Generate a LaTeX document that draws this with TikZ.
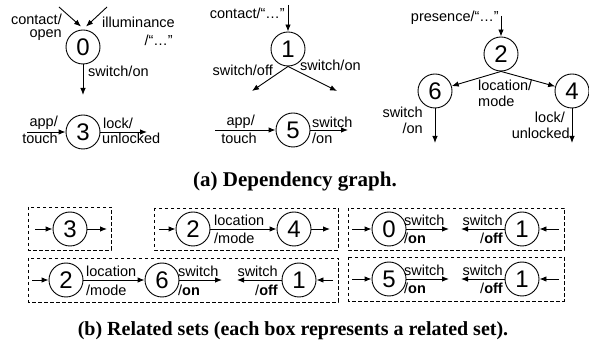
\documentclass[tikz,border=0pt]{standalone}
\usepackage{fontspec}
\setmainfont{Liberation Sans}
\newfontfamily\capfont{Liberation Serif}
\usetikzlibrary{arrows.meta}
\tikzset{
  st/.style={circle, draw, line width=0.9pt, minimum size=34pt, inner sep=0pt, font=\fontsize{24}{24}\selectfont},
  lbl/.style={inner sep=0pt, font=\fontsize{14.5}{15}\selectfont},
  arr/.style={line width=0.9pt, -{Latex[length=7pt,width=5.5pt]}},
  dbox/.style={line width=0.8pt, dash pattern=on 3.5pt off 2.5pt},
  captext/.style={inner sep=0pt, font=\capfont\bfseries\fontsize{20}{22}\selectfont}
}
\begin{document}
\begin{tikzpicture}[x=1pt,y=-1pt]
\useasboundingbox (0,0) rectangle (589,352);
% ---------- (a) left ----------
\node[st] (n0) at (83,47) {0};
\coordinate (i0a) at (59,7);
\coordinate (i0b) at (107,7);
\coordinate (o0) at (83,95);
\draw[arr] (i0a) -- ([xshift=-2pt,yshift=3pt]n0.north);
\draw[arr] (i0b) -- ([xshift=3pt,yshift=3pt]n0.north);
\draw[arr] (n0) -- (o0);
\node[lbl,anchor=east] (l0a) at (62,19) {contact/};
\node[lbl,anchor=east] (l0b) at (62,35) {open};
\node[lbl,anchor=west] (l0c) at (102,22) {illuminance};
\node[lbl,anchor=east] (l0d) at (173,40) {/“…”};
\node[lbl,anchor=west] (l0e) at (88,71) {switch/on};
\node[st] (n3) at (83,132) {3};
\coordinate (i3) at (27,132);
\coordinate (o3) at (147,132);
\draw[arr] (i3) -- (n3);
\draw[arr] (n3) -- (o3);
\node[lbl,anchor=east] (l3a) at (58,123) {app/};
\node[lbl,anchor=east] (l3b) at (58,138) {touch};
\node[lbl,anchor=west] (l3c) at (103,123) {lock/};
\node[lbl,anchor=west] (l3d) at (102,138) {unlocked};
% ---------- (a) middle ----------
\node[st] (n1) at (288,49) {1};
\coordinate (i1) at (288,5);
\coordinate (o1a) at (252,91);
\coordinate (o1b) at (337,91);
\draw[arr] (i1) -- (n1);
\draw[arr] (n1.south) -- (o1a);
\draw[arr] (n1.south) -- (o1b);
\node[lbl,anchor=east] (l1a) at (285,13) {contact/“…”};
\node[lbl,anchor=east] (l1b) at (273,70) {switch/off};
\node[lbl,anchor=west] (l1c) at (300,65) {switch/on};
\node[st] (n5) at (293,130) {5};
\coordinate (i5) at (215,130);
\coordinate (o5) at (348,130);
\draw[arr] (i5) -- (n5);
\draw[arr] (n5) -- (o5);
\node[lbl,anchor=east] (l5a) at (255,122) {app/};
\node[lbl,anchor=east] (l5b) at (257,138) {touch};
\node[lbl,anchor=west] (l5c) at (312,122) {switch};
\node[lbl,anchor=west] (l5d) at (312,138) {/on};
% ---------- (a) right ----------
\node[st] (n2) at (501,54) {2};
\node[st] (n6) at (435,91) {6};
\node[st] (n4) at (572,91) {4};
\coordinate (i2) at (501,16);
\coordinate (o6) at (435,143);
\coordinate (o4) at (572,143);
\draw[arr] (i2) -- (n2);
\draw[arr] (n2.south) -- (n6);
\draw[arr] (n2.south) -- (n4);
\draw[arr] (n6) -- (o6);
\draw[arr] (n4) -- (o4);
\node[lbl,anchor=east] (l2a) at (499,18) {presence/“…”};
\node[lbl,anchor=west] (l2b) at (478,85) {location/};
\node[lbl,anchor=west] (l2c) at (478,101) {mode};
\node[lbl,anchor=east] (l6a) at (423,112) {switch};
\node[lbl,anchor=east] (l6b) at (423,128) {/on};
\node[lbl,anchor=east] (l4a) at (565,117) {lock/};
\node[lbl,anchor=east] (l4b) at (570,133) {unlocked};
\node[captext,font=\capfont\bfseries\fontsize{21}{22}\selectfont] (capa) at (295,182) {(a) Dependency graph.};
% ---------- (b) boxes ----------
\draw[dbox] (28,207) rectangle (111,250);
\draw[dbox] (154,208) rectangle (338,250);
\draw[dbox] (348,208) rectangle (564,250);
\draw[dbox] (28,258) rectangle (338,302);
\draw[dbox] (348,257) rectangle (564,301);
% box 1
\node[st] (b3) at (70,229) {3};
\coordinate (b3i) at (35,229);
\coordinate (b3o) at (107,229);
\draw[arr] (b3i) -- (b3);
\draw[arr] (b3) -- (b3o);
% box 2
\node[st] (b2) at (193,229) {2};
\node[st] (b4) at (294,229) {4};
\coordinate (b2i) at (159,229);
\coordinate (b4o) at (330,229);
\draw[arr] (b2i) -- (b2);
\draw[arr] (b2) -- (b4);
\draw[arr] (b4) -- (b4o);
\node[lbl,anchor=west] (b2la) at (214,220) {location};
\node[lbl,anchor=west] (b2lb) at (214,238) {/mode};
% box 3
\node[st] (b0) at (389,229) {0};
\node[st] (b1) at (522,229) {1};
\coordinate (b0i) at (352,229);
\coordinate (b0o) at (449,229);
\coordinate (b1o) at (461,229);
\coordinate (b1i) at (559,229);
\draw[arr] (b0i) -- (b0);
\draw[arr] (b0) -- (b0o);
\draw[arr] (b1) -- (b1o);
\draw[arr] (b1i) -- (b1);
\node[lbl,anchor=west] (b0la) at (404,220) {switch};
\node[lbl,anchor=west] (b0lb) at (404,238) {/\textbf{on}};
\node[lbl,anchor=east] (b1la) at (503,220) {switch};
\node[lbl,anchor=east] (b1lb) at (503,238) {/\textbf{off}};
% box 4
\node[st] (c2) at (66,280) {2};
\node[st] (c6) at (162,280) {6};
\node[st] (c1) at (299,280) {1};
\coordinate (c2i) at (32,280);
\coordinate (c6o) at (222,280);
\coordinate (c1o) at (237,280);
\coordinate (c1i) at (333,280);
\draw[arr] (c2i) -- (c2);
\draw[arr] (c2) -- (c6);
\draw[arr] (c6) -- (c6o);
\draw[arr] (c1) -- (c1o);
\draw[arr] (c1i) -- (c1);
\node[lbl,anchor=west] (c2la) at (86,271) {location};
\node[lbl,anchor=west] (c2lb) at (86,290) {/mode};
\node[lbl,anchor=west] (c6la) at (178,271) {switch};
\node[lbl,anchor=west] (c6lb) at (178,290) {/\textbf{on}};
\node[lbl,anchor=east] (c1la) at (278,271) {switch};
\node[lbl,anchor=east] (c1lb) at (278,290) {/\textbf{off}};
% box 5
\node[st] (d5) at (389,279) {5};
\node[st] (d1) at (522,279) {1};
\coordinate (d5i) at (352,279);
\coordinate (d5o) at (449,279);
\coordinate (d1o) at (461,279);
\coordinate (d1i) at (559,279);
\draw[arr] (d5i) -- (d5);
\draw[arr] (d5) -- (d5o);
\draw[arr] (d1) -- (d1o);
\draw[arr] (d1i) -- (d1);
\node[lbl,anchor=west] (d5la) at (404,270) {switch};
\node[lbl,anchor=west] (d5lb) at (404,288) {/\textbf{on}};
\node[lbl,anchor=east] (d1la) at (503,270) {switch};
\node[lbl,anchor=east] (d1lb) at (503,288) {/\textbf{off}};
\node[captext] (capb) at (293,331) {(b) Related sets (each box represents a related set).};
\end{tikzpicture}
\end{document}
